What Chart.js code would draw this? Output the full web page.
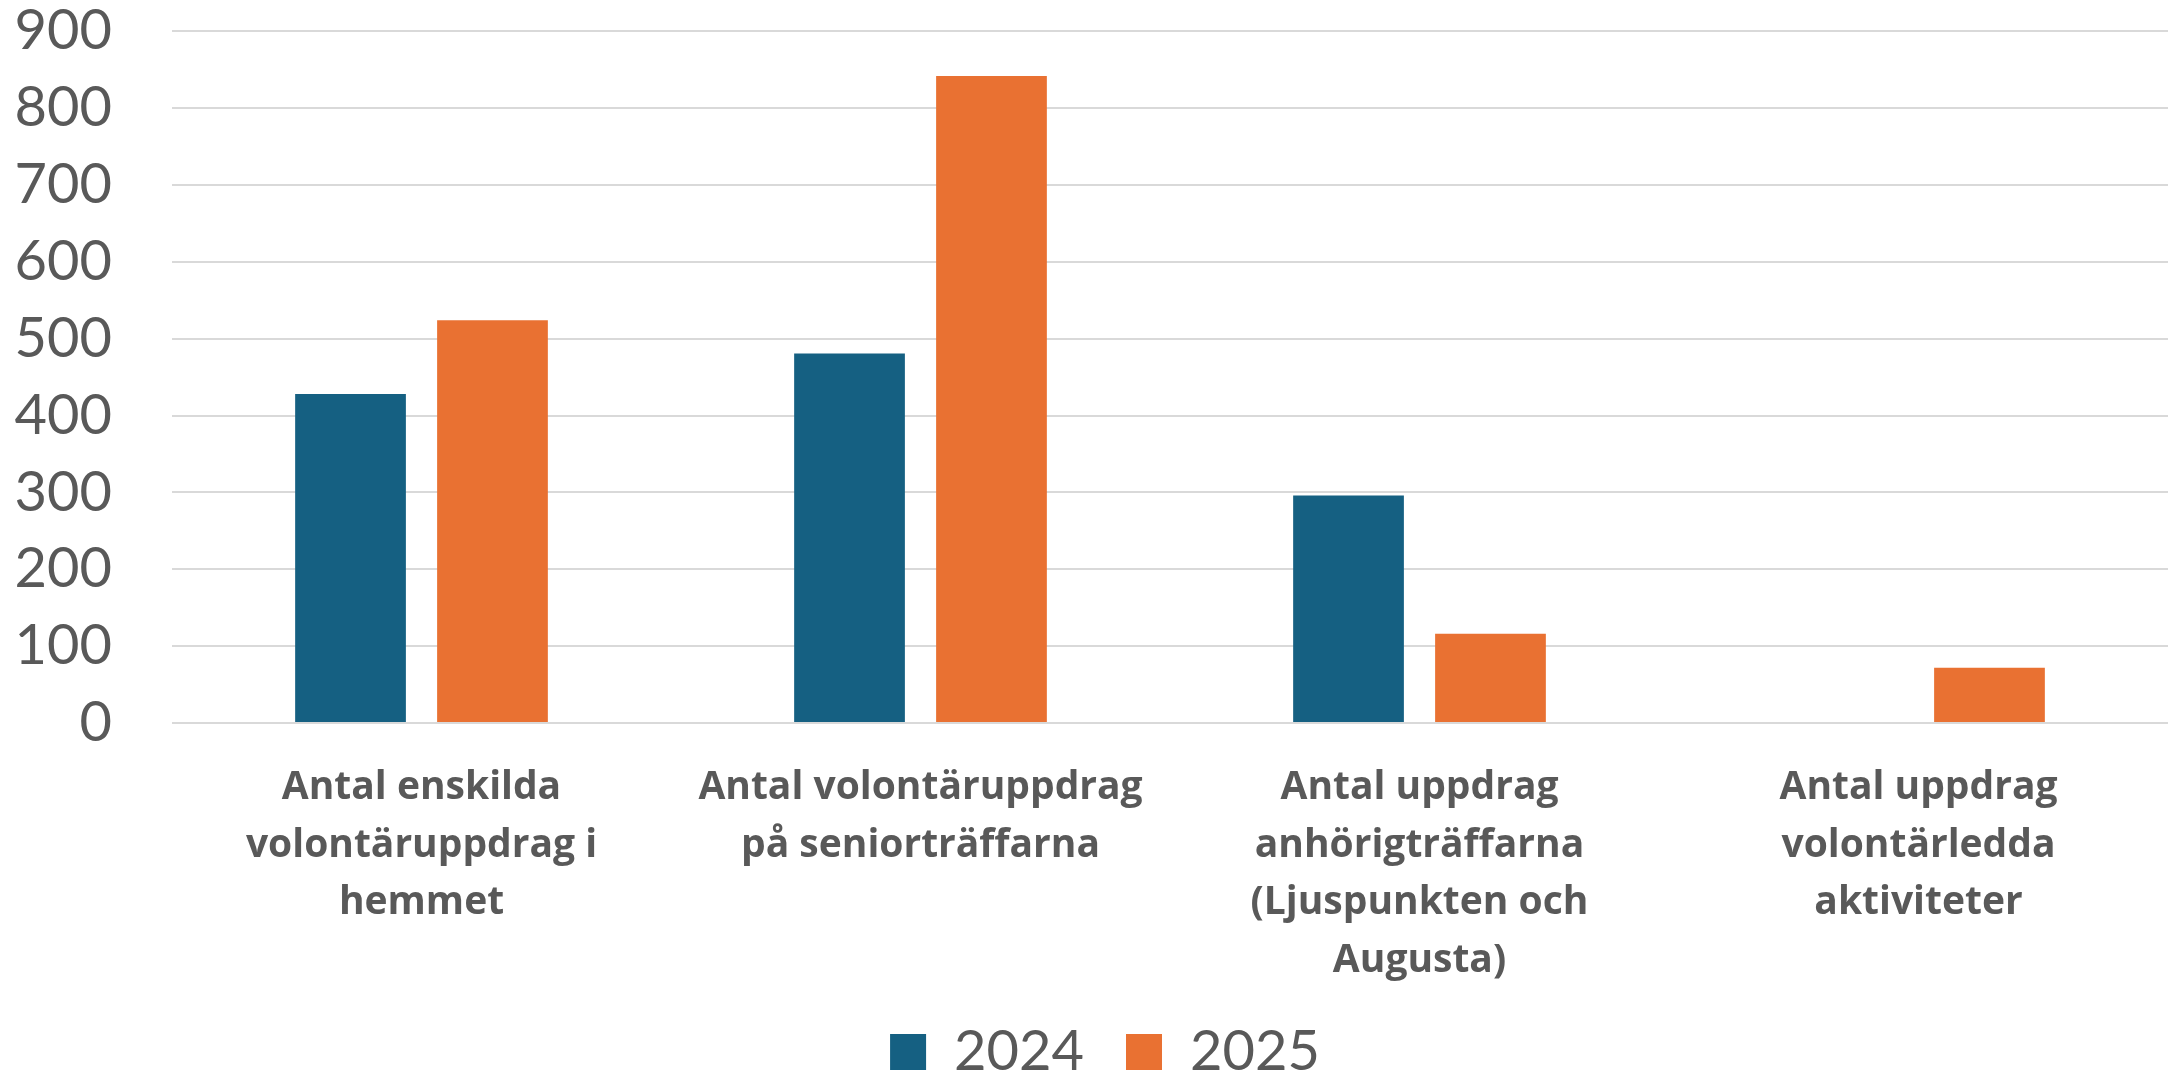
<!DOCTYPE html>
<html>
<head>
<meta charset="utf-8">
<script src="https://cdn.jsdelivr.net/npm/chart.js@4"></script>
<style>
  html, body { margin: 0; padding: 0; background: #ffffff; }
  #wrap { width: 2170px; height: 1075px; position: relative; }
</style>
</head>
<body>
<div id="wrap"><canvas id="c"></canvas></div>
<script>
const categories = [
  ["Antal enskilda", "volontäruppdrag i", "hemmet"],
  ["Antal volontäruppdrag", "på seniorträffarna"],
  ["Antal uppdrag", "anhörigträffarna", "(Ljuspunkten och", "Augusta)"],
  ["Antal uppdrag", "volontärledda", "aktiviteter"]
];
const seriesNames = ["2024", "2025"];
const values2024 = [428, 481, 296, null];
const values2025 = [524, 842, 116, 72];
const yTicks = [0, 100, 200, 300, 400, 500, 600, 700, 800, 900];

const textColor = "#595959";

const legendShift = {
  id: "legendShift",
  afterLayout(chart) {
    if (chart.legend) {
      chart.legend.left += 21;
      chart.legend.right += 21;
    }
  }
};

new Chart(document.getElementById("c"), {
  type: "bar",
  data: {
    labels: categories,
    datasets: [
      { label: seriesNames[0], data: values2024, backgroundColor: "#156082", borderWidth: 0 },
      { label: seriesNames[1], data: values2025, backgroundColor: "#E97132", borderWidth: 0 }
    ]
  },
  plugins: [legendShift],
  options: {
    responsive: true,
    maintainAspectRatio: false,
    animation: false,
    layout: { padding: { top: 0, right: 2, bottom: -15, left: 0 } },
    datasets: { bar: { categoryPercentage: 0.569, barPercentage: 0.78 } },
    plugins: {
      tooltip: { enabled: false },
      legend: {
        position: "bottom",
        labels: {
          font: { family: "Lato", size: 56 },
          color: textColor,
          boxWidth: 36,
          boxHeight: 36,
          padding: 42
        }
      }
    },
    scales: {
      x: {
        afterFit: (s) => { s.height = 259; },
        grid: { display: false, drawTicks: false },
        border: { display: false },
        ticks: {
          font: { family: "Open Sans", size: 39, weight: "bold", lineHeight: 1.48 },
          color: textColor,
          maxRotation: 0,
          autoSkip: false,
          padding: 36
        }
      },
      y: {
        min: yTicks[0],
        max: yTicks[yTicks.length - 1],
        afterBuildTicks: (s) => { s.ticks = yTicks.map(v => ({ value: v })); },
        afterFit: (s) => { s.width = 172; },
        grid: { color: "#d9d9d9", lineWidth: 2, drawTicks: true, tickLength: 58, tickColor: "rgba(0,0,0,0)" },
        border: { display: false },
        ticks: {
          font: { family: "Lato", size: 56, lineHeight: 1.05 },
          color: textColor,
          autoSkip: false,
          padding: 2
        }
      }
    }
  }
});
</script>
</body>
</html>
